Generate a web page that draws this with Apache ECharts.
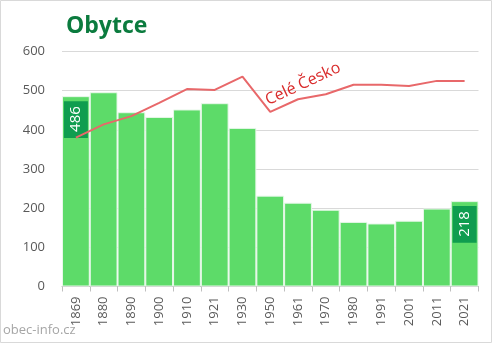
<!DOCTYPE html>
<html>
<head>
<meta charset="utf-8">
<script src="https://cdn.jsdelivr.net/npm/echarts@6/dist/echarts.min.js"></script>
<style>
html,body{margin:0;padding:0;background:#fff;}
#c{width:492px;height:343px;}
</style>
</head>
<body>
<div id="c"></div>
<script>
var years = ['1869','1880','1890','1900','1910','1921','1930','1950','1961','1970','1980','1991','2001','2011','2021'];
var obyvatele = [486, 496, 445, 433, 452, 468, 405, 232, 214, 196, 165, 161, 168, 199, 218];
var celeCesko = [380, 414, 435, 469, 504, 502, 536, 446, 478, 491, 515, 515, 512, 525, 525];
var yTicks = [0, 100, 200, 300, 400, 500, 600];
var titleText = 'Obytce';
var lineLabel = 'Celé Česko';
var sourceText = 'obec-info.cz';

var labelStyle = {
  show: true, position: 'insideTop', distance: 5, rotate: 90,
  align: 'right', verticalAlign: 'middle',
  color: '#fff', fontSize: 15, fontFamily: 'Open Sans', lineHeight: 16,
  backgroundColor: '#0f9d4f', padding: [4, 5, 4, 6],
  formatter: '{c}'
};
var barData = obyvatele.map(function (v, i) {
  if (i === 0 || i === obyvatele.length - 1) {
    return { value: v, label: labelStyle };
  }
  return v;
});

var chart = echarts.init(document.getElementById('c'), null, { renderer: 'canvas' });
chart.setOption({
  animation: false,
  textStyle: { fontFamily: 'Open Sans' },
  grid: { left: 62, right: 13.5, top: 51.5, bottom: 56.5 },
  xAxis: {
    type: 'category', data: years,
    axisLine: { show: true, lineStyle: { color: '#bfbfbf' } },
    axisTick: { show: true, length: 5, lineStyle: { color: '#bfbfbf' } },
    axisLabel: { rotate: 90, color: '#595959', fontSize: 13, margin: 10, fontFamily: 'Open Sans' }
  },
  yAxis: {
    type: 'value', min: yTicks[0], max: yTicks[yTicks.length - 1], interval: 100,
    axisLine: { show: false }, axisTick: { show: false },
    axisLabel: { color: '#595959', fontSize: 13, margin: 17, fontFamily: 'Open Sans' },
    splitLine: { lineStyle: { color: '#d9d9d9', width: 1 } }
  },
  series: [
    {
      type: 'bar', data: barData, barCategoryGap: '0%',
      itemStyle: { color: '#5ddb69', borderColor: '#e8f8ea', borderWidth: 1 },
      z: 2
    },
    {
      type: 'line', data: celeCesko, symbol: 'none',
      lineStyle: { color: '#e8686a', width: 2 },
      z: 3
    }
  ],
  graphic: [
    { type: 'rect', shape: { x: 0.5, y: 0.5, width: 491, height: 342 },
      style: { fill: 'none', stroke: '#d9d9d9', lineWidth: 1 }, z: 0 },
    { type: 'text', left: 66, top: 15,
      style: { text: titleText, fill: '#0b7b3e', font: 'bold 23px "Open Sans"' } },
    { type: 'text', x: 303, y: 84, rotation: 25 * Math.PI / 180,
      style: { text: lineLabel, fill: '#d92b2b', font: '16px "Open Sans"', textAlign: 'center', textVerticalAlign: 'middle' }, z: 10 },
    { type: 'text', left: 3, top: 324,
      style: { text: sourceText, fill: '#a6a6a6', font: '13px "Open Sans"' } }
  ]
});
</script>
</body>
</html>
